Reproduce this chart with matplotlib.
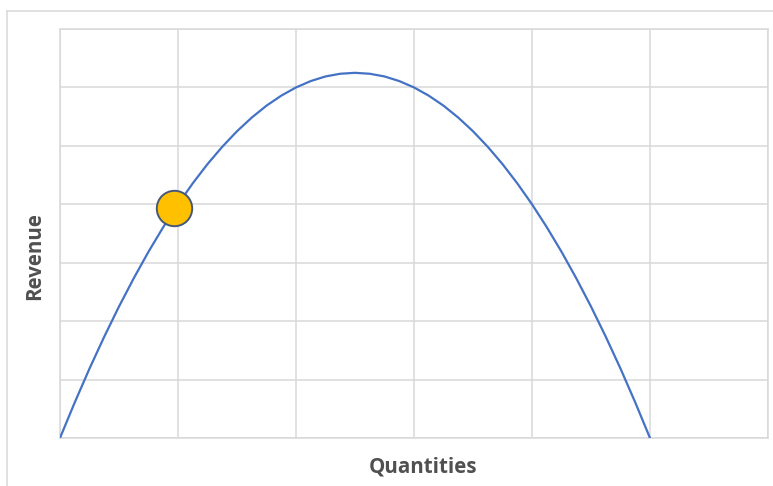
import matplotlib
matplotlib.use("Agg")
import matplotlib.pyplot as plt
from matplotlib.lines import Line2D

# Data
quantities = [0, 0.125, 0.25, 0.375, 0.5, 0.625, 0.75, 0.875, 1, 1.125,
              1.25, 1.375, 1.5, 1.625, 1.75, 1.875, 2, 2.125, 2.25, 2.375,
              2.5, 2.625, 2.75, 2.875, 3, 3.125, 3.25, 3.375, 3.5, 3.625,
              3.75, 3.875, 4, 4.125, 4.25, 4.375, 4.5, 4.625, 4.75, 4.875, 5]
revenue = [0, 0.609, 1.188, 1.734, 2.25, 2.734, 3.188, 3.609, 4, 4.359,
           4.688, 4.984, 5.25, 5.484, 5.688, 5.859, 6, 6.109, 6.188, 6.234,
           6.25, 6.234, 6.188, 6.109, 6, 5.859, 5.688, 5.484, 5.25, 4.984,
           4.688, 4.359, 4, 3.609, 3.188, 2.734, 2.25, 1.734, 1.188, 0.609, 0]
point_q = [0.97]
point_r = [3.94]
x_ticks = [0, 1, 2, 3, 4, 5, 6]
y_ticks = [0, 1, 2, 3, 4, 5, 6, 7]

W, H = 773, 486
fig = plt.figure(figsize=(W / 100, H / 100), dpi=100)
ax = fig.add_axes([60 / W, 1 - 438 / H, (768 - 60) / W, (438 - 29) / H])

ax.plot(quantities, revenue, color="#4472C4", lw=1.6, solid_joinstyle="round",
        solid_capstyle="round", zorder=3)
ax.plot(point_q, point_r, "o", ms=25.5, mfc="#FFC000", mec="#46587A", mew=1.4, zorder=4)

ax.set_xlim(0, 6)
ax.set_ylim(0, 7)
ax.set_xticks(x_ticks)
ax.set_yticks(y_ticks)
ax.tick_params(length=0, labelbottom=False, labelleft=False)
ax.grid(True, color="#D9D9D9", lw=1.1)
for s in ax.spines.values():
    s.set_color("#D9D9D9")
    s.set_linewidth(1.1)
ax.set_axisbelow(True)

# outer chart border (left and top edges visible)
fig.add_artist(Line2D([7.5 / W, 7.5 / W], [0, 1 - 11.5 / H], transform=fig.transFigure,
                      color="#D9D9D9", lw=1.1))
fig.add_artist(Line2D([7.5 / W, 1], [1 - 11.5 / H, 1 - 11.5 / H], transform=fig.transFigure,
                      color="#D9D9D9", lw=1.1))

fig.text(423 / W, 1 - 467 / H, "Quantities", ha="center", va="center",
         fontsize=14.8, fontweight="bold", color="#505050", family="Open Sans")
fig.text(35 / W, 1 - 256 / H, "Revenue", ha="center", va="center", rotation=90,
         fontsize=14.8, fontweight="bold", color="#505050", family="Open Sans")

fig.savefig("out.png", dpi=100)
